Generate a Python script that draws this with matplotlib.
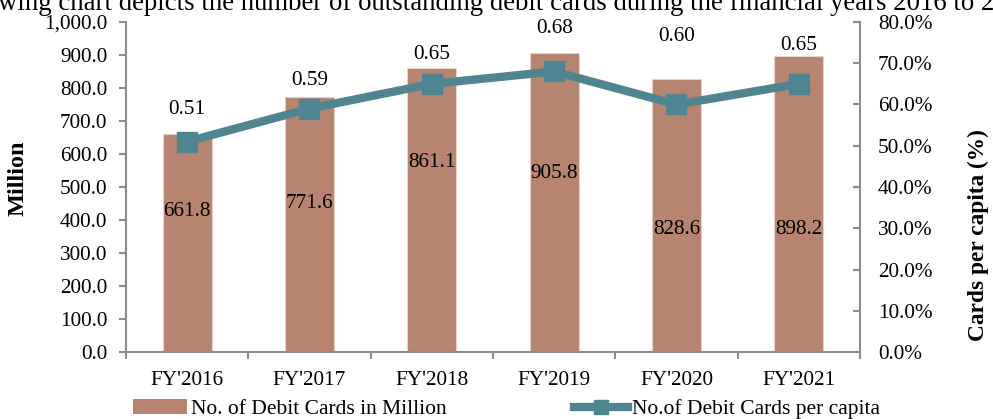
import matplotlib.pyplot as plt
from matplotlib.lines import Line2D
from matplotlib.patches import Patch

# Data
years = ["FY'2016", "FY'2017", "FY'2018", "FY'2019", "FY'2020", "FY'2021"]
cards_million = [661.8, 771.6, 861.1, 905.8, 828.6, 898.2]
cards_per_capita = [0.51, 0.59, 0.65, 0.68, 0.60, 0.65]

# where the data labels sit (layout only)
bar_label_y = [425, 450, 574, 541, 370, 370]
pc_label_y = [58.7, 65.9, 72.0, 78.5, 76.4, 74.4]

bar_color = "#B7856F"
line_color = "#4F8591"
axis_color = "#8C8C8C"
fs = 15.3

plt.rcParams['font.family'] = ['Liberation Serif', 'DejaVu Serif']
plt.rcParams['font.size'] = fs

fig = plt.figure(figsize=(9.93, 4.19), dpi=100)
ax = fig.add_axes([0.1269, 0.1599, 0.866 - 0.1269, 0.9475 - 0.1599])
ax2 = ax.twinx()

x = list(range(len(years)))
ax.bar(x, cards_million, width=0.4, color=bar_color, edgecolor="#E8D2C8", linewidth=0.8, zorder=2)
for xi, v, ly in zip(x, cards_million, bar_label_y):
    ax.text(xi, ly, f"{v:.1f}", ha='center', va='center', fontsize=fs)

pc_percent = [v * 100 for v in cards_per_capita]
ax2.plot(x, pc_percent, color=line_color, linewidth=6, marker='s', markersize=15,
         markerfacecolor=line_color, markeredgecolor=line_color, zorder=3)
for xi, v, ly in zip(x, cards_per_capita, pc_label_y):
    ax2.text(xi, ly, f"{v:.2f}", ha='center', va='center', fontsize=fs)

ax.set_xlim(-0.5, 5.5)
ax.set_ylim(0, 1000)
ax2.set_ylim(0, 80)
ax.set_yticks(range(0, 1001, 100))
ax.set_yticklabels([f"{v:,.1f}" for v in range(0, 1001, 100)])
ax2.set_yticks(range(0, 81, 10))
ax2.set_yticklabels([f"{v:.1f}%" for v in range(0, 81, 10)])

ax.set_xticks(x)
ax.set_xticklabels(years)
ax.set_xticks([i - 0.5 for i in range(len(years) + 1)], minor=True)
ax.tick_params(axis='x', which='major', length=0, pad=14)
ax.tick_params(axis='x', which='minor', length=5, color=axis_color, width=1.5)
ax.tick_params(axis='y', length=5, color=axis_color, width=1.5, pad=8.5)
ax2.tick_params(axis='y', length=5, color=axis_color, width=1.5, direction='in', pad=13)

for a in (ax, ax2):
    a.spines['top'].set_visible(False)
    for s in ('left', 'right', 'bottom'):
        a.spines[s].set_color(axis_color)
        a.spines[s].set_linewidth(1.5)
ax.spines['right'].set_visible(False)
ax2.spines['left'].set_visible(False)
ax2.spines['bottom'].set_visible(False)

# axis titles, placed where the reference has them
fig.text(18 / 993, 1 - 178 / 419, "Million", rotation=90, ha='center', va='center',
         fontweight='bold', fontsize=17.5)
fig.text(978 / 993, 1 - 235 / 419, "Cards per capita (%)", rotation=90, ha='center', va='center',
         fontweight='bold', fontsize=16.8)

# legend below the plot
handles = [Patch(facecolor=bar_color, edgecolor='none'),
           Line2D([], [], color=line_color, linewidth=6, marker='s', markersize=10)]
fig.legend(handles, ["No. of Debit Cards in Million", "No.of Debit Cards per capita"],
           loc='center', bbox_to_anchor=(0.51, 0.023), ncol=2, frameon=False,
           fontsize=15.5, handlelength=2.5, handletextpad=0.2, columnspacing=5.9)

# intro sentence cropped at the top of the screenshot
fig.text(-0.002, 0.977, "wing chart depicts the number of outstanding debit cards during the financial years 2016 to 2021.",
         ha='left', va='baseline', fontsize=19.3)

fig.savefig("out.png", dpi=100)
